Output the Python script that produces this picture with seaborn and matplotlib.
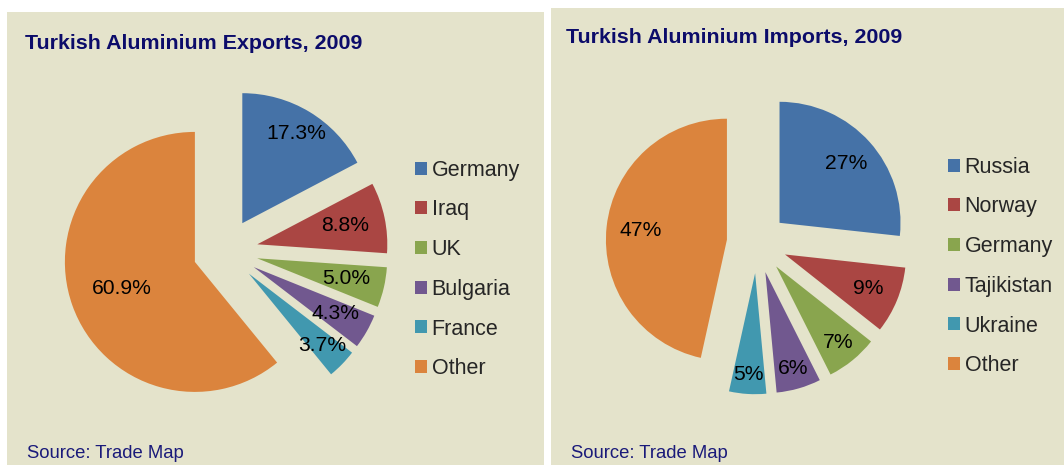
import numpy as np
import matplotlib
matplotlib.use("Agg")
import matplotlib.pyplot as plt
import seaborn as sns
from matplotlib.patches import Rectangle

sns.set_theme(style="white")
plt.rcParams['font.family'] = ['Liberation Sans', 'DejaVu Sans']

# ---- data ----
export_countries = ["Germany", "Iraq", "UK", "Bulgaria", "France", "Other"]
export_shares = [17.3, 8.8, 5.0, 4.3, 3.7, 60.9]
export_labels = ["17.3%", "8.8%", "5.0%", "4.3%", "3.7%", "60.9%"]

import_countries = ["Russia", "Norway", "Germany", "Tajikistan", "Ukraine", "Other"]
import_shares = [27, 9, 7, 6, 5, 47]
import_labels = ["27%", "9%", "7%", "6%", "5%", "47%"]

colors = ["#4572A7", "#AA4643", "#89A54E", "#71588F", "#4198AF", "#DB843D"]
panel_bg = "#E4E3CB"
navy = "#0C0C6A"

W, H = 1064, 465
fig = plt.figure(figsize=(W / 100, H / 100), dpi=100)
fig.patch.set_facecolor("white")

# panels
fig.patches.append(Rectangle((7 / W, 0), (544 - 7) / W, (H - 12) / H,
                             transform=fig.transFigure, facecolor=panel_bg,
                             edgecolor="none", zorder=-5))
fig.patches.append(Rectangle((551 / W, 0), (W - 551) / W, (H - 8) / H,
                             transform=fig.transFigure, facecolor=panel_bg,
                             edgecolor="none", zorder=-5))

L = 1.7


def pie_axes(cx, cy, R):
    ax = fig.add_axes([(cx - R * L) / W, (H - cy - R * L) / H,
                       2 * R * L / W, 2 * R * L / H])
    return ax


def draw_pie(ax, values, labels, dists):
    wedges, _, autotexts = ax.pie(values, colors=colors, startangle=90,
                                  counterclock=False, explode=[0.25] * len(values),
                                  autopct="%1.1f%%", pctdistance=0.7,
                                  wedgeprops=dict(edgecolor="none"),
                                  textprops=dict(fontsize=15.2, color="black"))
    for w, t, lab, d in zip(wedges, autotexts, labels, dists):
        th = np.deg2rad((w.theta1 + w.theta2) / 2)
        cx, cy = w.center
        t.set_position((cx + d * w.r * np.cos(th), cy + d * w.r * np.sin(th)))
        t.set_text(lab)
    ax.set_xlim(-L, L)
    ax.set_ylim(-L, L)
    ax.set_aspect("equal")
    ax.axis("off")
    ax.patch.set_alpha(0)
    return wedges


ax1 = pie_axes(225.5, 251, 130)
w1 = draw_pie(ax1, export_shares, export_labels, [0.81, 0.69, 0.70, 0.72, 0.79, 0.60])
ax2 = pie_axes(757, 243, 121)
w2 = draw_pie(ax2, import_shares, import_labels, [0.74, 0.74, 0.81, 0.83, 0.84, 0.72])

leg_kw = dict(loc="center left", frameon=False, fontsize=15.5,
              handlelength=0.55, handleheight=0.55, handletextpad=0.22,
              labelspacing=0.87, borderpad=0, borderaxespad=0)
fig.legend(w1, export_countries, bbox_to_anchor=(415 / W, 1 - 269.5 / H), **leg_kw)
fig.legend(w2, import_countries, bbox_to_anchor=(948 / W, 1 - 266.5 / H), **leg_kw)

# titles and sources
fig.text(25 / W, 1 - 49 / H, "Turkish Aluminium Exports, 2009", fontsize=15.4,
         fontweight="bold", color=navy, ha="left", va="baseline")
fig.text(566 / W, 1 - 43 / H, "Turkish Aluminium Imports, 2009", fontsize=15.4,
         fontweight="bold", color=navy, ha="left", va="baseline")
fig.text(27 / W, 1 - 458 / H, "Source: Trade Map", fontsize=13.3,
         color="#1A1A7A", ha="left", va="baseline")
fig.text(571 / W, 1 - 458 / H, "Source: Trade Map", fontsize=13.3,
         color="#1A1A7A", ha="left", va="baseline")

fig.savefig("out.png", dpi=100, facecolor=fig.get_facecolor())
